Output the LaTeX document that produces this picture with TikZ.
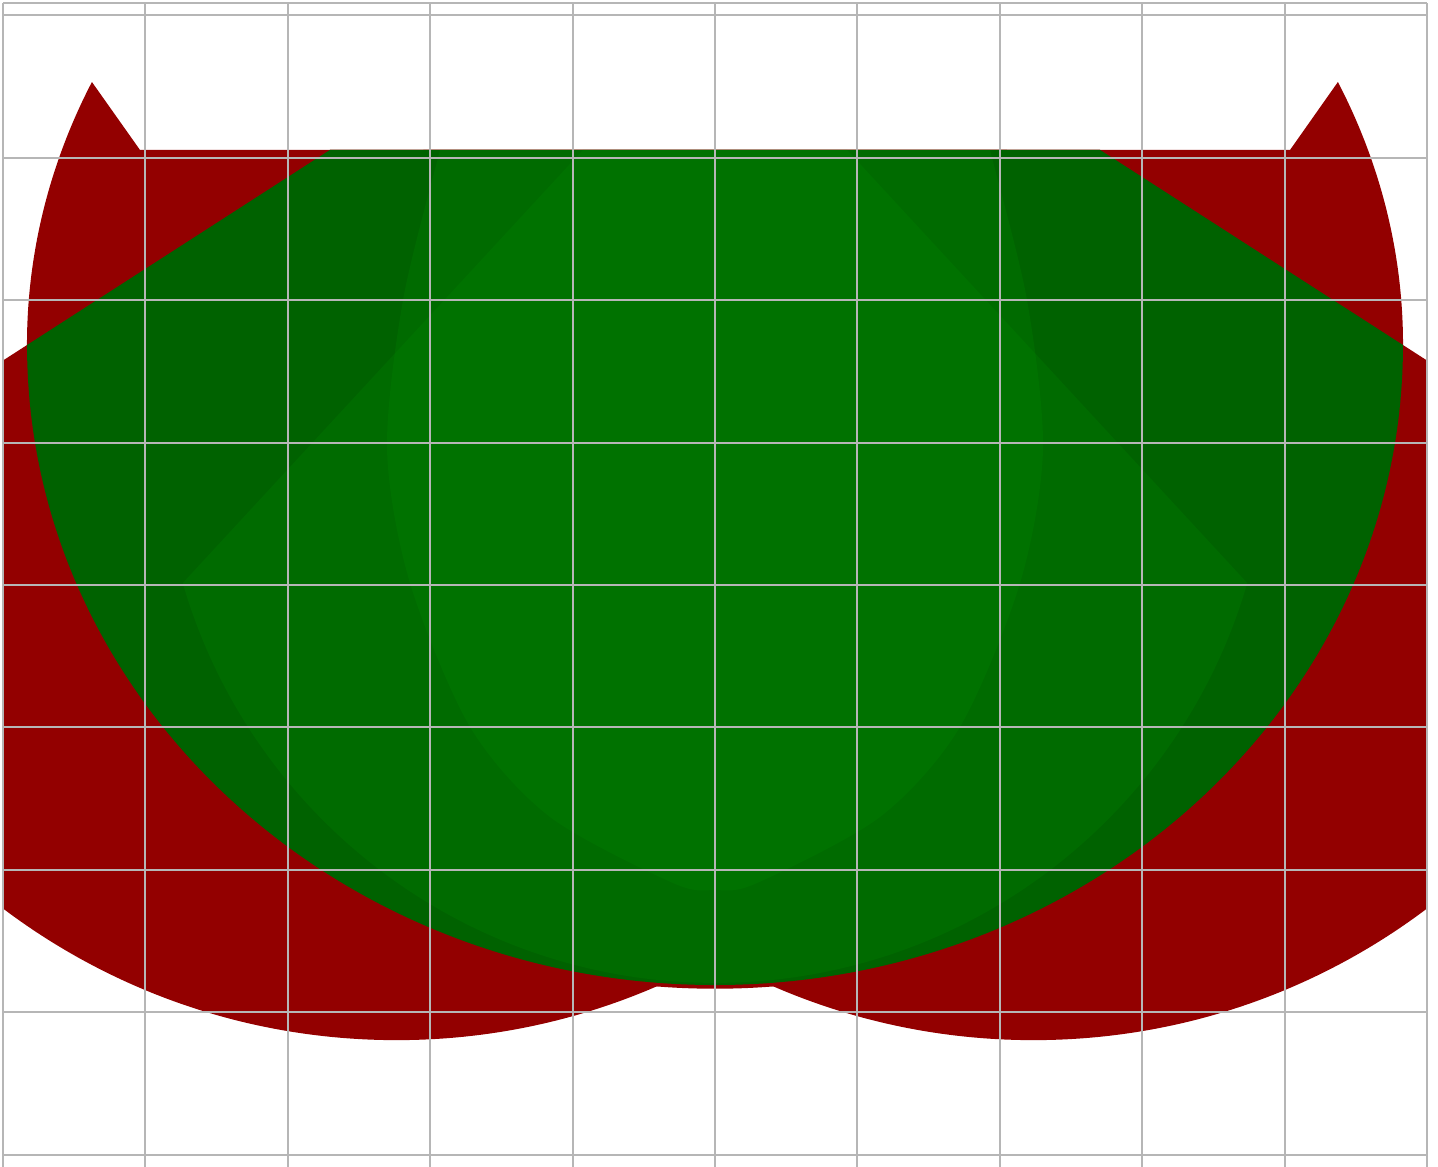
\documentclass[tikz,border=0pt]{standalone}
\definecolor{redc}{RGB}{147,0,0}
\definecolor{greenc}{RGB}{0,98,0}
\definecolor{greenl}{RGB}{0,140,0}
\definecolor{gridc}{RGB}{182,182,182}
\tikzset{
  gridline/.style={draw=gridc, line width=0.4pt},
  lightlayer/.style={fill=greenl, fill opacity=0.22}
}
\begin{document}
\begin{tikzpicture}
\useasboundingbox (-5.021,-4.080) rectangle (5.077,4.108);
\begin{scope}
  \clip (-5,-4.2) rectangle (5,4.09);
  % red head with ears
  \fill[redc] (4.374,3.532) arc[start angle=25.1, end angle=-205.1, x radius=4.831, y radius=4.353]
     -- (-4.038,3.055) -- (4.038,3.055) -- cycle;
  % lower red body
  \begin{scope}
    \clip (-8,-0.356) -- (-2.704,3.055) -- (2.704,3.055) -- (8,-0.356) -- (8,-6) -- (-8,-6) -- cycle;
    \fill[redc] (-2.236,1.397) circle (4.593);
    \fill[redc] (2.236,1.397) circle (4.593);
    \fill[redc] (0,1.685) ellipse [x radius=4.831, y radius=4.52];
  \end{scope}
  % green shape
  \fill[greenc] (-2.704,3.055) -- (2.704,3.055) -- (4.831,1.685)
     arc[start angle=0, end angle=-180, x radius=4.831, y radius=4.494] -- cycle;
  % lighter layers
  \begin{scope}
    \clip (-2.704,3.055) -- (2.704,3.055) -- (4.831,1.685)
     arc[start angle=0, end angle=-180, x radius=4.831, y radius=4.494] -- cycle;
    \begin{scope}
      \clip (0,4.059) -- (-8.37,-5) -- (8.37,-5) -- cycle;
      \fill[lightlayer] (0,1.096) circle (3.89);
    \end{scope}
    \fill[lightlayer] plot[smooth cycle] coordinates {(0,3.5) (-1.87,3.3) (-1.931,3.055) (-2.191,2.001) (-2.303,0.948) (-2.142,0.014) (-1.72,-0.997) (-1.159,-1.629) (-0.295,-2.093) (0,-2.142) (0.295,-2.093) (1.159,-1.629) (1.72,-0.997) (2.142,0.014) (2.303,0.948) (2.191,2.001) (1.931,3.055) (1.87,3.3)};
  \end{scope}
\end{scope}
% grid
\draw[gridline] (-5,4.09) -- (5,4.09);
\foreach \x in {-5,...,5} \draw[gridline] (\x,-4.2) -- (\x,4.09);
\foreach \y in {-4,...,4} \draw[gridline] (-5,\y) -- (5,\y);
\end{tikzpicture}
\end{document}
